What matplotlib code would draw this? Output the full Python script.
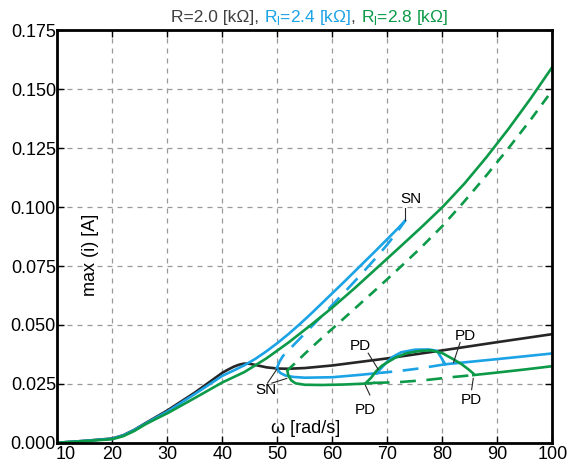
import matplotlib
matplotlib.use("Agg")
import matplotlib.pyplot as plt
import matplotlib.transforms as mtransforms
from matplotlib.offsetbox import TextArea, HPacker, AnchoredOffsetbox

plt.rcParams['font.family'] = ['Liberation Sans', 'DejaVu Sans']
plt.rcParams['mathtext.fontset'] = 'custom'
plt.rcParams['mathtext.rm'] = 'Liberation Sans'

# R = 2.0 kOhm
w_k = [10, 15, 20, 22, 24, 26, 28, 30, 35, 40, 41, 42, 43, 44, 45, 46, 47, 48, 50,
       52, 55, 60, 70, 80, 90, 100]
i_k = [0, 0.0008, 0.0018, 0.0032, 0.0055, 0.0083, 0.0110, 0.0137, 0.0213, 0.0297,
       0.0310, 0.0322, 0.0331, 0.0336, 0.0335, 0.0330, 0.0325, 0.0320, 0.0315, 0.0314,
       0.0317, 0.0328, 0.0358, 0.0392, 0.0427, 0.0461]

# Rl = 2.4 kOhm
w_b_main = [10, 15, 20, 22, 24, 26, 28, 30, 35, 40, 42, 44, 46, 48, 50, 52, 54, 56, 58,
            60, 62, 64, 66, 68, 70, 72, 73.2]
i_b_main = [0, 0.0008, 0.0017, 0.0031, 0.0054, 0.0081, 0.0107, 0.0132, 0.0207, 0.0284,
            0.0306, 0.0329, 0.0356, 0.0388, 0.0423, 0.0461, 0.0502, 0.0545, 0.0590,
            0.0635, 0.0680, 0.0726, 0.0772, 0.0818, 0.0865, 0.0912, 0.0942]
w_b_uns = [49.9, 50.4, 51, 52, 54, 56, 58, 60, 62, 64, 66, 68, 70, 72, 73.2]
i_b_uns = [0.0316, 0.0345, 0.0368, 0.0392, 0.0440, 0.0488, 0.0536, 0.0585, 0.0634,
           0.0684, 0.0735, 0.0787, 0.0842, 0.0902, 0.0942]
w_b_low = [49.9, 50.2, 50.6, 51.5, 53, 55, 60, 65, 68]
i_b_low = [0.0316, 0.0305, 0.0295, 0.0285, 0.0279, 0.0276, 0.0278, 0.0288, 0.0295]
w_b_low_d = [68, 72, 76, 80.5]
i_b_low_d = [0.0295, 0.0304, 0.0316, 0.0333]
w_b_low2 = [80.5, 90, 100]
i_b_low2 = [0.0333, 0.0355, 0.0379]
w_b_pd = [68, 69, 70, 71, 72.5, 75, 77.5, 79, 79.8, 80.5]
i_b_pd = [0.0295, 0.032, 0.0345, 0.0365, 0.0384, 0.0395, 0.0396, 0.039, 0.036, 0.0333]

# Rl = 2.8 kOhm
w_g_main = [10, 15, 20, 22, 24, 26, 28, 30, 35, 40, 44, 48, 52, 56, 60, 64, 68, 72, 76,
            80, 84, 88, 92, 96, 100]
i_g_main = [0, 0.0007, 0.0015, 0.0028, 0.0050, 0.0078, 0.0102, 0.0125, 0.0190, 0.0256,
            0.0300, 0.0358, 0.0425, 0.0498, 0.0574, 0.0655, 0.0740, 0.0825, 0.0911,
            0.1000, 0.1100, 0.1212, 0.1332, 0.1460, 0.1596]
w_g_uns = [51.8, 52.3, 53, 55, 57.5, 60, 64, 68, 72, 76, 80, 84, 88, 92, 96, 100]
i_g_uns = [0.0305, 0.0318, 0.0333, 0.0378, 0.0432, 0.0484, 0.0568, 0.0652, 0.0738,
           0.0826, 0.0920, 0.1025, 0.1135, 0.1250, 0.1370, 0.1497]
w_g_low = [51.8, 52.0, 52.5, 53.3, 55, 58, 62, 66, 67.5]
i_g_low = [0.0305, 0.0285, 0.0265, 0.0252, 0.0246, 0.0245, 0.0247, 0.0251, 0.0254]
w_g_low_d = [67.5, 72, 77, 82, 85.6]
i_g_low_d = [0.0254, 0.0257, 0.0266, 0.0279, 0.0287]
w_g_low2 = [85.6, 90, 95, 100]
i_g_low2 = [0.0287, 0.0298, 0.0311, 0.0325]
w_g_pd = [66, 67, 68, 69, 70.2, 71.5, 73.5, 76, 78, 80, 82, 83.5, 84.8, 85.6]
i_g_pd = [0.0252, 0.0275, 0.0305, 0.0327, 0.0344, 0.0362, 0.038, 0.039, 0.0392, 0.038,
          0.0354, 0.0333, 0.031, 0.0294]

c_k = '#262626'
c_b = '#1ba3e6'
c_g = '#0c9a48'
lw = 1.9

fig = plt.figure(figsize=(5.71, 4.68), dpi=100)
ax = fig.add_axes([0.1004, 0.054, 0.8672, 0.881])

ax.plot(w_k, i_k, color=c_k, lw=lw)

ax.plot(w_b_main, i_b_main, color=c_b, lw=lw)
ax.plot(w_b_uns, i_b_uns, color=c_b, lw=lw, dashes=(6, 4))
ax.plot(w_b_low, i_b_low, color=c_b, lw=lw)
ax.plot(w_b_low_d, i_b_low_d, color=c_b, lw=lw, dashes=(6, 4))
ax.plot(w_b_low2, i_b_low2, color=c_b, lw=lw)
ax.plot(w_b_pd, i_b_pd, color=c_b, lw=lw)

ax.plot(w_g_main, i_g_main, color=c_g, lw=lw)
ax.plot(w_g_uns, i_g_uns, color=c_g, lw=lw, dashes=(4, 3))
ax.plot(w_g_low, i_g_low, color=c_g, lw=lw)
ax.plot(w_g_low_d, i_g_low_d, color=c_g, lw=lw, dashes=(6, 4))
ax.plot(w_g_low2, i_g_low2, color=c_g, lw=lw)
ax.plot(w_g_pd, i_g_pd, color=c_g, lw=lw)

# annotations
fs = 11
ax.text(74.2, 0.1005, 'SN', fontsize=fs, ha='center', va='bottom')
ax.plot([73.2, 73.2], [0.0945, 0.0995], color=c_k, lw=0.8)
ax.text(48.0, 0.0222, 'SN', fontsize=fs, ha='center', va='center')
ax.plot([48.2, 49.9], [0.0253, 0.0312], color=c_k, lw=0.8)
ax.plot([49.0, 51.7], [0.0253, 0.0273], color=c_k, lw=0.8)
ax.text(65.0, 0.0412, 'PD', fontsize=fs, ha='center', va='center')
ax.plot([66.5, 68.3], [0.0380, 0.0312], color=c_k, lw=0.8)
ax.text(66.0, 0.0140, 'PD', fontsize=fs, ha='center', va='center')
ax.plot([66.8, 66.0], [0.0203, 0.0243], color=c_k, lw=0.8)
ax.text(84.2, 0.0452, 'PD', fontsize=fs, ha='center', va='center')
ax.plot([83.2, 82.0], [0.0425, 0.0340], color=c_k, lw=0.8)
ax.text(85.2, 0.0180, 'PD', fontsize=fs, ha='center', va='center')
ax.plot([85.6, 85.3], [0.0273, 0.0225], color=c_k, lw=0.8)

ax.text(55.1, 0.0062, 'ω [rad/s]', fontsize=13, ha='center', va='center')
ax.text(16.0, 0.0797, 'max (i) [A]', fontsize=13, ha='center', va='center', rotation=90)

ax.set_xlim(10, 100)
ax.set_ylim(0, 0.175)
ax.set_xticks(range(10, 101, 10))
ax.set_yticks([0, 0.025, 0.05, 0.075, 0.1, 0.125, 0.15, 0.175])
ax.set_yticklabels(['%.3f' % v for v in ax.get_yticks()])
ax.tick_params(direction='in', top=True, right=True, length=5, width=1, labelsize=13, pad=2)
ax.tick_params(axis='y', pad=1)
ax.grid(True, color='#999999', lw=0.9, dashes=(4, 4))
for s in ax.spines.values():
    s.set_linewidth(2)

# nudge first x label right so it clears 0.000
first = ax.get_xticklabels()[0]
first.set_transform(first.get_transform() +
                    mtransforms.ScaledTranslation(6 / 72, 0, fig.dpi_scale_trans))

tfs = 12.5
parts = [TextArea('R=2.0 [kΩ], ', textprops=dict(color='#404040', fontsize=tfs)),
         TextArea(r'R$_\mathregular{l}$=2.4 [kΩ]', textprops=dict(color=c_b, fontsize=tfs)),
         TextArea(', ', textprops=dict(color='#404040', fontsize=tfs)),
         TextArea(r'R$_\mathregular{l}$=2.8 [kΩ]', textprops=dict(color=c_g, fontsize=tfs))]
box = HPacker(children=parts, align='baseline', pad=0, sep=0)
anc = AnchoredOffsetbox(loc='lower center', child=box, pad=0, frameon=False,
                        bbox_to_anchor=(0.51, 1.008), bbox_transform=ax.transAxes,
                        borderpad=0)
ax.add_artist(anc)

fig.savefig('out.png', dpi=100)
